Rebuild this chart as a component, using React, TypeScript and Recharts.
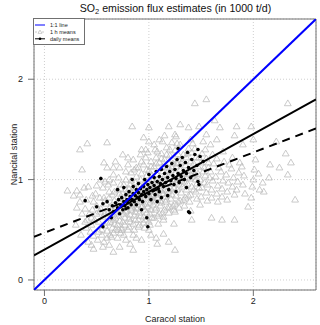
import React from 'react';
import { ScatterChart, Scatter, XAxis, YAxis, CartesianGrid, ReferenceArea, Label } from 'recharts';

const FONT = '"Liberation Sans", Arial, Helvetica, sans-serif';

const axisTicks = [0, 1, 2];
const axisDomain: [number, number] = [-0.1, 2.6];

// 1 h means (Caracol, Nancital) in 1000 t/d
const hourlyMeans: [number, number][] = [
  [1.44,1.76],[1.55,1.80],[2.33,1.76],[0.84,1.53],[1.00,1.52],[1.19,1.53],[1.30,1.55],[1.38,1.52],[1.48,1.53],[1.63,1.59],
  [1.68,1.52],[1.84,1.53],[1.98,1.53],[0.95,1.42],[1.10,1.40],[1.26,1.43],[1.40,1.40],[1.55,1.45],[1.65,1.40],[1.82,1.44],
  [2.00,1.40],[2.22,1.38],[1.90,1.35],[0.34,1.30],[0.41,1.36],[0.60,1.37],[0.36,1.10],[0.57,1.17],[0.60,1.12],[0.66,1.05],
  [0.22,0.89],[0.28,0.84],[0.38,0.92],[0.42,0.93],[0.50,0.94],[0.54,1.00],[2.31,1.26],[2.36,1.17],[2.33,1.05],[2.09,0.97],
  [2.10,0.88],[1.98,0.82],[2.40,0.80],[1.95,0.73],[1.70,0.60],[1.82,0.60],[1.60,0.62],[1.41,0.60],[1.25,0.68],[1.14,0.60],
  [1.24,0.56],[1.14,0.46],[1.07,0.42],[1.19,0.38],[1.25,0.30],[0.39,0.58],[0.47,0.31],[0.56,0.33],[0.57,0.38],[0.63,0.45],
  [0.68,0.50],[0.74,0.50],[0.31,0.89],[0.34,0.85],[0.46,0.84],[0.40,0.80],
  [0.30,0.55],[0.31,0.72],[0.35,0.45],[0.36,0.66],[0.34,0.78],[0.40,0.52],[0.41,0.60],[0.39,0.71],[0.42,0.38],[0.45,0.35],
  [0.45,0.62],[0.46,0.70],[0.44,0.48],[0.47,0.78],[0.45,0.55],[0.50,0.66],[0.51,0.40],[0.49,0.86],[0.52,0.58],[0.50,0.74],
  [0.55,0.50],[0.56,0.63],[0.54,0.71],[0.57,0.82],[0.55,0.45],[0.56,0.92],[0.60,0.57],[0.61,0.68],[0.59,0.76],[0.62,0.88],
  [0.60,0.49],[0.61,0.95],[0.63,0.62],[0.65,0.52],[0.66,0.60],[0.64,0.70],[0.67,0.79],[0.65,0.85],[0.66,0.97],[0.68,0.66],
  [0.64,0.43],[0.70,0.55],[0.71,0.64],[0.69,0.73],[0.72,0.81],[0.70,0.90],[0.71,1.02],[0.73,0.47],[0.70,0.68],[0.72,0.77],
  [0.75,0.58],[0.76,0.66],[0.74,0.71],[0.77,0.80],[0.75,0.87],[0.76,0.95],[0.78,1.08],[0.74,0.52],[0.77,0.62],[0.75,0.75],
  [0.80,0.50],[0.81,0.61],[0.79,0.69],[0.82,0.74],[0.80,0.83],[0.81,0.91],[0.83,0.99],[0.80,1.15],[0.82,0.65],[0.79,0.78],
  [0.81,0.86],[0.85,0.56],[0.86,0.64],[0.84,0.72],[0.87,0.77],[0.85,0.84],[0.86,0.92],[0.88,1.03],[0.85,1.20],[0.87,0.68],
  [0.84,0.81],[0.86,0.89],[0.85,0.45],[0.90,0.60],[0.91,0.67],[0.89,0.75],[0.92,0.80],[0.90,0.87],[0.91,0.95],[0.93,1.06],
  [0.90,1.12],[0.92,1.25],[0.89,0.71],[0.91,0.84],[0.90,0.53],[0.95,0.63],[0.96,0.70],[0.94,0.78],[0.97,0.83],[0.95,0.90],
  [0.96,0.97],[0.98,1.04],[0.95,1.15],[0.97,1.30],[0.94,0.74],[0.96,0.87],[0.95,0.57],[1.00,0.58],[1.01,0.66],[0.99,0.73],
  [1.02,0.81],[1.00,0.88],[1.01,0.93],[1.03,1.00],[1.00,1.09],[1.02,1.18],[0.99,1.27],[1.01,0.77],[1.00,0.85],[1.02,0.96],
  [1.00,0.50],[1.05,0.62],[1.06,0.70],[1.04,0.79],[1.07,0.85],[1.05,0.91],[1.06,0.98],[1.08,1.05],[1.05,1.13],[1.07,1.22],
  [1.04,0.75],[1.06,0.88],[1.05,1.35],[1.10,0.66],[1.11,0.74],[1.09,0.82],[1.12,0.89],[1.10,0.95],[1.11,1.01],[1.13,1.08],
  [1.10,1.17],[1.12,1.26],[1.09,0.56],[1.11,0.79],[1.10,0.92],[1.15,0.70],[1.16,0.78],[1.14,0.86],[1.17,0.93],[1.15,0.99],
  [1.16,1.05],[1.18,1.12],[1.15,1.20],[1.17,1.32],[1.14,0.63],[1.16,0.83],[1.15,1.44],[1.20,0.73],[1.21,0.81],[1.19,0.88],
  [1.22,0.96],[1.20,1.02],[1.21,1.09],[1.23,1.16],[1.20,1.24],[1.22,1.37],[1.19,0.67],[1.21,0.91],[1.25,0.76],[1.26,0.84],
  [1.24,0.92],[1.27,1.00],[1.25,1.06],[1.26,1.13],[1.28,1.20],[1.25,1.29],[1.24,0.70],[1.26,0.97],[1.25,1.45],[1.30,0.79],
  [1.31,0.87],[1.29,0.95],[1.32,1.03],[1.30,1.10],[1.31,1.17],[1.33,1.25],[1.30,1.35],[1.29,0.72],[1.31,0.99],[1.35,0.82],
  [1.36,0.90],[1.34,0.98],[1.37,1.06],[1.35,1.14],[1.36,1.22],[1.38,1.31],[1.34,0.74],[1.36,1.02],[1.40,0.85],[1.41,0.93],
  [1.39,1.01],[1.42,1.09],[1.40,1.18],[1.41,1.27],[1.39,0.78],[1.42,1.36],[1.40,0.69],[1.45,0.88],[1.46,0.96],[1.44,1.05],
  [1.47,1.13],[1.45,1.22],[1.46,0.81],[1.44,1.31],[1.45,1.00],[1.50,0.83],[1.51,0.92],[1.49,1.00],[1.52,1.08],[1.50,1.17],
  [1.51,1.26],[1.49,0.75],[1.52,1.38],[1.55,0.87],[1.56,0.95],[1.54,1.04],[1.57,1.12],[1.55,1.21],[1.56,0.79],[1.54,1.30],
  [1.60,0.90],[1.61,0.99],[1.59,1.08],[1.62,1.16],[1.60,0.82],[1.61,1.25],[1.59,1.35],[1.65,0.86],[1.66,0.94],[1.64,1.03],
  [1.67,1.12],[1.65,1.21],[1.66,0.78],[1.70,0.91],[1.71,0.99],[1.69,1.08],[1.72,1.18],[1.70,0.83],[1.71,1.28],[1.75,0.88],
  [1.76,0.97],[1.74,1.05],[1.77,1.15],[1.75,0.80],[1.80,0.93],[1.81,1.02],[1.79,1.11],[1.82,0.85],[1.80,1.22],[1.85,0.98],
  [1.86,1.07],[1.84,0.90],[1.87,1.17],[1.90,0.95],[1.91,1.04],[1.89,1.13],[1.92,0.86],[2.00,1.00],[2.01,1.10],[1.99,0.93],
  [2.02,1.20],[2.05,1.06],[2.06,0.90],[2.15,1.02],[2.16,1.15],[2.25,1.12],
  [0.58,0.54],[0.58,0.66],[0.58,0.79],[0.63,0.58],[0.63,0.73],[0.62,0.82],[0.67,0.56],[0.68,0.71],[0.67,0.88],[0.68,0.62],
  [0.72,0.59],[0.73,0.70],[0.72,0.86],[0.73,0.95],[0.77,0.55],[0.78,0.68],[0.77,0.76],[0.78,0.90],[0.78,1.00],[0.82,0.58],
  [0.83,0.70],[0.82,0.79],[0.83,0.88],[0.82,0.95],[0.83,1.07],[0.87,0.60],[0.88,0.72],[0.87,0.81],[0.88,0.87],[0.87,0.97],
  [0.88,1.12],[0.92,0.64],[0.93,0.73],[0.92,0.85],[0.93,0.92],[0.92,1.00],[0.93,1.18],[0.97,0.60],[0.98,0.67],[0.97,0.76],
  [0.98,0.86],[0.97,0.94],[0.98,1.10],[0.97,1.22],[1.03,0.62],[1.02,0.70],[1.03,0.84],[1.02,0.90],[1.03,1.04],[1.02,1.13],
  [1.08,0.64],[1.07,0.72],[1.08,0.82],[1.07,0.94],[1.08,1.00],[1.07,1.16],[1.08,1.28],[1.13,0.67],[1.12,0.77],[1.13,0.86],
  [1.12,0.98],[1.13,1.13],[1.12,1.21],[1.18,0.72],[1.17,0.80],[1.18,0.90],[1.17,1.01],[1.18,1.08],[1.17,1.25],[1.23,0.74],
  [1.22,0.85],[1.23,0.99],[1.22,1.12],[1.23,1.20],[1.28,0.78],[1.27,0.90],[1.28,1.03],[1.27,1.16],[1.28,1.25],[1.33,0.80],
  [1.32,0.93],[1.33,1.05],[1.32,1.18],[1.38,0.84],[1.37,0.96],[1.38,1.09],[1.37,1.26],[1.43,0.90],[1.42,1.03],[1.43,1.16],
  [1.48,0.92],[1.47,1.06],[1.48,1.22],[1.53,0.97],[1.53,1.12],[1.58,1.02],[1.57,1.17],[0.53,0.68],[0.52,0.48],[0.53,0.82],
  [0.48,0.60],[0.47,0.44],[0.43,0.66],[0.60,0.42],[0.66,0.47],[0.71,0.50],[0.76,0.45],[0.81,0.53],[0.86,0.50],[0.91,0.55],
  [0.96,0.52],[1.01,0.55],[0.78,0.40],[0.88,0.42],[0.70,0.42],
  [0.62,0.35],[0.72,0.33],[0.82,0.36],[0.93,0.40],[1.02,0.45],[0.66,0.28],[0.85,0.30],[1.08,0.36],
  [0.72,1.12],[0.80,1.22],[0.86,1.10],[0.93,1.30],[1.00,1.38],[1.06,1.30],[1.13,1.38],[1.20,1.30],[1.27,1.36],[0.68,1.18],
  [0.75,1.25],[0.62,1.00],[0.58,0.98],[0.66,1.12]
];

// daily means (Caracol, Nancital) in 1000 t/d
const dailyMeans: [number, number][] = [
  [0.39,0.79],[0.54,1.01],[0.50,0.73],[0.56,0.76],[0.56,0.53],[0.78,0.71],[0.98,0.62],[0.99,0.53],[1.39,0.67],[1.38,0.68],
  [1.28,1.31],[1.37,1.27],[1.47,1.30],[1.49,1.23],[1.48,0.95],[1.47,0.98],
  [0.62,0.70],[0.65,0.74],[0.66,0.68],[0.68,0.77],[0.70,0.72],[0.71,0.80],[0.72,0.66],[0.73,0.75],[0.74,0.82],[0.75,0.70],
  [0.76,0.78],[0.77,0.74],[0.78,0.85],[0.79,0.80],[0.80,0.72],[0.80,0.77],[0.81,0.88],[0.82,0.83],[0.83,0.75],[0.84,0.80],
  [0.85,0.86],[0.85,0.93],[0.86,0.78],[0.87,0.84],[0.88,0.90],[0.88,0.75],[0.89,0.82],[0.90,0.87],[0.90,0.96],[0.91,0.80],
  [0.92,0.91],[0.93,0.85],[0.94,0.78],[0.95,0.93],[0.95,0.88],[0.96,1.00],[0.97,0.83],[0.98,0.90],[0.99,0.95],[1.00,0.86],
  [1.00,1.05],[1.01,0.92],[1.02,0.80],[1.03,0.97],[1.04,0.89],[1.05,1.02],[1.05,0.94],[1.06,0.85],[1.07,1.08],[1.08,0.98],
  [1.09,0.91],[1.10,1.03],[1.10,0.88],[1.11,0.96],[1.12,1.10],[1.13,1.00],[1.14,0.93],[1.15,1.06],[1.16,0.97],[1.17,1.13],
  [1.18,1.02],[1.19,0.90],[1.20,1.08],[1.21,0.99],[1.22,1.16],[1.23,1.04],[1.24,0.95],[1.25,1.10],[1.26,1.01],[1.27,1.20],
  [1.28,1.06],[1.29,0.97],[1.30,1.14],[1.31,1.03],[1.32,1.22],[1.33,1.09],[1.34,1.00],[1.35,1.17],[1.36,1.06],[1.38,1.12],
  [1.40,1.02],[1.41,1.20],[1.43,1.09],[1.44,1.25],[1.46,1.14],[1.52,1.18],[1.18,0.84],[1.08,0.78],[0.93,0.70],[0.70,0.90],
  [0.76,0.92],[0.84,1.00],[0.64,0.62],[0.60,0.78],[1.12,0.82],[1.26,0.88],[1.36,0.92]
];

// lines: [x, y] end points across the plotted range
const oneToOneLine: [number, number][] = [[-0.1, -0.1], [2.6, 2.6]];
const dailyFitLine: [number, number][] = [[-0.1, 0.245], [2.6, 1.80]];
const hourlyFitLine: [number, number][] = [[-0.1, 0.43], [2.6, 1.51]];

const toPts = (arr: [number, number][]) => arr.map(([x, y]) => ({ x, y }));

const Triangle = (props: any) => {
  const { cx, cy } = props;
  if (cx == null || cy == null) return null;
  return (
    <path
      d={`M${cx},${cy - 3.4} L${cx + 3.4},${cy + 2.4} L${cx - 3.4},${cy + 2.4} Z`}
      fill="none"
      stroke="#bcbcbc"
      strokeWidth={0.8}
    />
  );
};

const Dot = (props: any) => {
  const { cx, cy } = props;
  if (cx == null || cy == null) return null;
  return <circle cx={cx} cy={cy} r={1.8} fill="#000" />;
};

const NoShape = () => null;

export default function App() {
  return (
    <div style={{ position: 'absolute', left: 0, top: 0, width: 320, height: 325, background: '#fff' }}>
      <ScatterChart width={320} height={325} margin={{ top: 19, right: 4, bottom: 0, left: 0 }}>
        <CartesianGrid stroke="#cfcfcf" strokeDasharray="1 2" />
        <XAxis
          type="number"
          dataKey="x"
          domain={axisDomain}
          ticks={axisTicks}
          allowDataOverflow
          height={35}
          axisLine={false}
          tickLine={{ stroke: '#707070' }}
          tickSize={6}
          tickMargin={2}
          tick={{ fontSize: 9, fill: '#222', fontFamily: FONT }}
        >
          <Label value="Caracol station" position="insideBottom" offset={3} style={{ fontSize: 9, fill: '#222', fontFamily: FONT }} />
        </XAxis>
        <YAxis
          type="number"
          dataKey="y"
          domain={axisDomain}
          ticks={axisTicks}
          allowDataOverflow
          width={34}
          axisLine={false}
          tickLine={{ stroke: '#707070' }}
          tickSize={6}
          tickMargin={5}
          tick={{ fontSize: 9, fill: '#222', fontFamily: FONT }}
        >
          <Label
            content={() => (
              <text
                x={17}
                y={154.5}
                transform="rotate(-90 17 154.5)"
                textAnchor="middle"
                style={{ fontSize: 9, fill: '#222', fontFamily: FONT }}
              >
                Nancital station
              </text>
            )}
          />
        </YAxis>
        <Scatter data={toPts(hourlyMeans)} shape={<Triangle />} isAnimationActive={false} />
        <Scatter data={toPts(dailyMeans)} shape={<Dot />} isAnimationActive={false} />
        <Scatter data={toPts(hourlyFitLine)} shape={<NoShape />} line={{ stroke: '#000', strokeWidth: 2, strokeDasharray: '8 6' }} isAnimationActive={false} />
        <Scatter data={toPts(dailyFitLine)} shape={<NoShape />} line={{ stroke: '#000', strokeWidth: 2 }} isAnimationActive={false} />
        <Scatter data={toPts(oneToOneLine)} shape={<NoShape />} line={{ stroke: '#0000ff', strokeWidth: 2 }} isAnimationActive={false} />
        <ReferenceArea x1={-0.1} x2={2.6} y1={-0.1} y2={2.6} fill="none" stroke="#707070" strokeWidth={1} ifOverflow="visible" />
      </ScatterChart>
      <svg width={320} height={325} style={{ position: 'absolute', left: 0, top: 0, pointerEvents: 'none' }}>
        <text x={175.5} y={11.5} textAnchor="middle" style={{ fontSize: 10.6, fill: '#111', fontFamily: FONT }}>
          SO<tspan fontSize={7.5} dy={2.5}>2</tspan><tspan dy={-2.5}> emission flux estimates (in 1000 t/d)</tspan>
        </text>
        <rect x={33.5} y={18.5} width={51} height={26} fill="#fff" stroke="#707070" strokeWidth={1} />
        <line x1={35} y1={25} x2={45} y2={25} stroke="#0000ff" strokeWidth={1} />
        <text x={50} y={27} style={{ fontSize: 5.5, fill: '#222', fontFamily: FONT }}>1:1 line</text>
        <line x1={35} y1={32} x2={45} y2={32} stroke="#bdbdbd" strokeWidth={0.8} strokeDasharray="2 1.5" />
        <path d="M40,30 L42,33.4 L38,33.4 Z" fill="#fff" stroke="#bdbdbd" strokeWidth={0.7} />
        <text x={50} y={34} style={{ fontSize: 5.5, fill: '#222', fontFamily: FONT }}>1 h means</text>
        <line x1={35} y1={38.8} x2={45} y2={38.8} stroke="#000" strokeWidth={1} />
        <circle cx={40} cy={38.8} r={1.3} fill="#000" />
        <text x={50} y={40.8} style={{ fontSize: 5.5, fill: '#222', fontFamily: FONT }}>daily means</text>
      </svg>
    </div>
  );
}
